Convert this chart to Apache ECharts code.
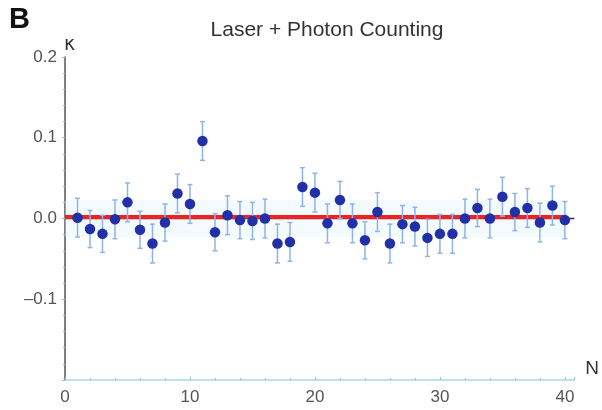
<!DOCTYPE html>
<html>
<head>
<meta charset="utf-8">
<script src="https://cdn.jsdelivr.net/npm/echarts@6/dist/echarts.min.js"></script>
<style>
  html, body { margin: 0; padding: 0; background: #fff; }
  #chart { width: 602px; height: 410px; }
</style>
</head>
<body>
<div id="chart"></div>
<script>
// values
var nValues = [1, 2, 3, 4, 5, 6, 7, 8, 9, 10, 11, 12, 13, 14, 15, 16, 17, 18, 19, 20,
  21, 22, 23, 24, 25, 26, 27, 28, 29, 30, 31, 32, 33, 34, 35, 36, 37, 38, 39, 40];
var kappa = [0.001, -0.013, -0.019, -0.001, 0.020, -0.014, -0.031, -0.005, 0.031, 0.018,
  0.096, -0.017, 0.004, -0.002, -0.003, 0.000, -0.031, -0.029, 0.039, 0.032,
  -0.006, 0.023, -0.006, -0.027, 0.008, -0.031, -0.007, -0.010, -0.024, -0.019,
  -0.019, 0.000, 0.013, 0.000, 0.027, 0.008, 0.013, -0.005, 0.016, -0.002];
var kappaErr = [0.024, 0.023, 0.023, 0.024, 0.024, 0.023, 0.024, 0.023, 0.024, 0.024,
  0.024, 0.023, 0.024, 0.023, 0.023, 0.024, 0.024, 0.024, 0.024, 0.024,
  0.024, 0.023, 0.024, 0.023, 0.024, 0.024, 0.023, 0.024, 0.023, 0.024,
  0.024, 0.024, 0.023, 0.024, 0.024, 0.023, 0.024, 0.024, 0.024, 0.023];
var fitX = [0, 40];
var fitY = [0.002, 0.002];
var zeroX = [0, 40.75];
var bandLo = -0.023;
var bandHi = 0.023;
var xTicks = [0, 10, 20, 30, 40];
var yTicks = [-0.1, 0.0, 0.1, 0.2];

var chart = echarts.init(document.getElementById('chart'));

var points = nValues.map(function (n, i) { return [n, kappa[i]]; });
var bars = nValues.map(function (n, i) { return [n, kappa[i] - kappaErr[i], kappa[i] + kappaErr[i]]; });

function fmtY(v) {
  var r = Math.round(v * 10) / 10;
  if (yTicks.indexOf(r) < 0 || Math.abs(v - r) > 1e-6) return '';
  if (r < 0) return '\u2013' + Math.abs(r).toFixed(1);
  return r.toFixed(1);
}

var option = {
  animation: false,
  backgroundColor: '#fff',
  title: {
    text: 'Laser + Photon Counting',
    left: 322,
    textAlign: 'center',
    top: 15,
    textStyle: { fontFamily: 'Liberation Sans', fontSize: 21, fontWeight: 'normal', color: '#333' }
  },
  graphic: [{
    type: 'text',
    left: 9,
    top: 5,
    style: { text: 'B', fontFamily: 'Liberation Sans', fontSize: 29, fontWeight: 'bold', fill: '#111' }
  }],
  grid: { left: 65, right: 27, top: 57, bottom: 30, containLabel: false },
  xAxis: {
    type: 'value',
    min: 0,
    max: 40.75,
    interval: 10,
    name: 'N',
    nameLocation: 'end',
    nameGap: 11,
    nameTextStyle: { fontFamily: 'Liberation Sans', fontSize: 19, color: '#333', verticalAlign: 'bottom', padding: [0, 0, 2, 0] },
    axisLine: { onZero: false, lineStyle: { color: '#a9d6e6', width: 1.5 } },
    axisTick: { show: true, inside: true, length: 3, lineStyle: { color: '#9fbfd0' } },
    minorTick: { show: true, splitNumber: 5, length: 2, lineStyle: { color: '#9fbfd0' } },
    splitLine: { show: false },
    axisLabel: {
      fontFamily: 'Liberation Sans', fontSize: 17, color: '#555', margin: 9,
      formatter: function (v) { return xTicks.indexOf(v) >= 0 ? String(v) : ''; }
    }
  },
  yAxis: {
    type: 'value',
    min: -0.2,
    max: 0.2,
    interval: 0.1,
    name: '\u03ba',
    nameLocation: 'end',
    nameGap: 2,
    nameTextStyle: { fontFamily: 'DejaVu Sans', fontSize: 19, color: '#333', align: 'left', padding: [0, 0, 0, -1] },
    axisLine: { lineStyle: { color: '#555', width: 1.5 } },
    axisTick: { show: true, inside: false, length: 3, lineStyle: { color: '#9fbfd0' } },
    minorTick: { show: true, splitNumber: 5, length: 2, lineStyle: { color: '#9fbfd0' } },
    splitLine: { show: false },
    axisLabel: { fontFamily: 'Liberation Sans', fontSize: 17, color: '#555', margin: 8, formatter: fmtY }
  },
  series: [
    {
      type: 'line',
      data: zeroX.map(function (x) { return [x, 0]; }),
      symbol: 'none',
      lineStyle: { color: '#333', width: 1.5 },
      z: 1,
      markArea: {
        silent: true,
        itemStyle: { color: 'rgba(220, 243, 252, 0.3)' },
        data: [[{ xAxis: 0, yAxis: bandLo }, { xAxis: 40, yAxis: bandHi }]]
      }
    },
    {
      type: 'line',
      data: fitX.map(function (x, i) { return [x, fitY[i]]; }),
      symbol: 'none',
      lineStyle: { color: '#ee2222', width: 4 },
      z: 2
    },
    {
      type: 'custom',
      data: bars,
      z: 3,
      renderItem: function (params, api) {
        var x = api.value(0);
        var lo = api.coord([x, api.value(1)]);
        var hi = api.coord([x, api.value(2)]);
        var cap = 2.5;
        var style = { stroke: '#8fb3e8', lineWidth: 1.5, fill: null };
        return {
          type: 'group',
          children: [
            { type: 'line', shape: { x1: lo[0], y1: lo[1], x2: hi[0], y2: hi[1] }, style: style },
            { type: 'line', shape: { x1: lo[0] - cap, y1: lo[1], x2: lo[0] + cap, y2: lo[1] }, style: style },
            { type: 'line', shape: { x1: hi[0] - cap, y1: hi[1], x2: hi[0] + cap, y2: hi[1] }, style: style }
          ]
        };
      }
    },
    {
      type: 'scatter',
      data: points,
      symbol: 'circle',
      symbolSize: 10.5,
      itemStyle: { color: '#2230a8', opacity: 1 },
      z: 4
    }
  ]
};

chart.setOption(option);
</script>
</body>
</html>
